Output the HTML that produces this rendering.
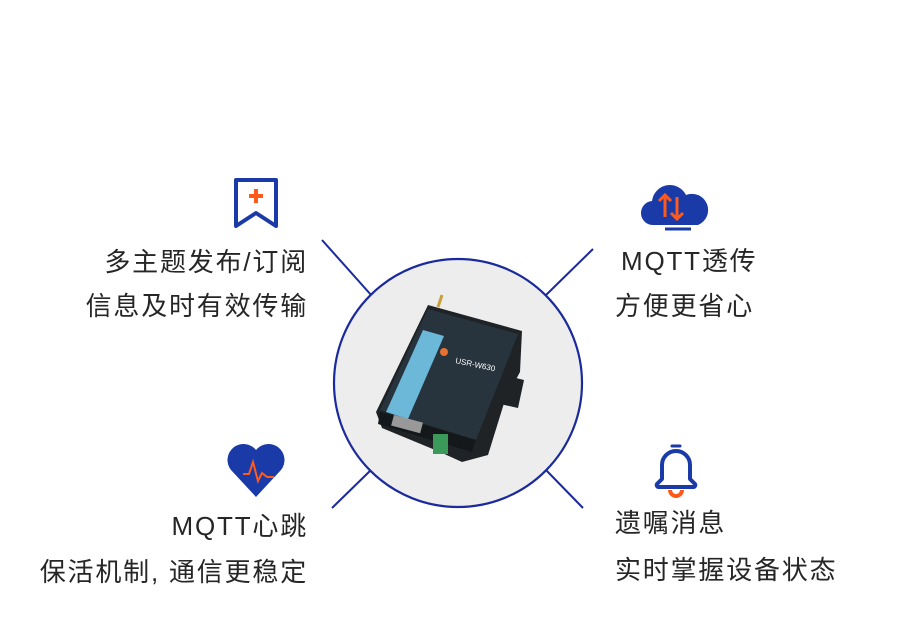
<!DOCTYPE html>
<html><head><meta charset="utf-8"><style>
body{margin:0;width:900px;height:636px;background:#fff;overflow:hidden;position:relative;font-family:"Liberation Sans","Noto Sans CJK SC",sans-serif;color:#262626}
.t{position:absolute;font-size:26px;letter-spacing:1.8px;white-space:nowrap;line-height:30px}
.r{text-align:right}
</style></head><body>
<svg width="900" height="636" style="position:absolute;left:0;top:0">
<g stroke="#1a2a9c" stroke-width="2" fill="none">
<line x1="322" y1="240" x2="372" y2="296"/>
<line x1="593" y1="249" x2="545" y2="296"/>
<line x1="332" y1="508" x2="372" y2="469"/>
<line x1="583" y1="508" x2="545" y2="469"/>
</g>
<circle cx="458" cy="383" r="124" fill="#ededed" stroke="#1a2a9c" stroke-width="2.2"/>
<!-- device -->
<polygon points="376,412 428,305 522,331 520,372 505,400 488,455 462,462 440,452 382,428" fill="#1f2326"/>
<polygon points="380,410 428,309 518,334 476,440" fill="#27343d"/>
<polygon points="386,412 423,330 444,336 408,419" fill="#6bb8d8"/>
<polygon points="380,412 476,440 472,452 378,424" fill="#15181a"/>
<rect x="392" y="418" width="30" height="11" fill="#999" transform="rotate(15 405 424)"/>
<rect x="433" y="434" width="15" height="20" fill="#3a9a5a"/>
<polygon points="508,376 524,380 518,408 500,404" fill="#1f2326"/>
<line x1="438" y1="307" x2="442" y2="295" stroke="#c9a040" stroke-width="3"/>
<text x="455" y="363" font-size="8" fill="#fff" font-family="Liberation Sans" transform="rotate(12 455 363)">USR-W630</text>
<circle cx="444" cy="352" r="4" fill="#e87030"/>
<!-- icons -->
<path d="M236 180h40v46l-20-13l-20 13z" fill="none" stroke="#1a3aa8" stroke-width="4" stroke-linejoin="round"/>
<path d="M256 189v14M249 196h14" stroke="#ff5a1a" stroke-width="4"/>
<path d="M654 225a12 12 0 0 1-2-24a18 18 0 0 1 34-6a14 14 0 0 1 12 30z" fill="#1a3aa8"/>
<path d="M665 217v-22M659 201l6-6l6 6M677 197v22M671 213l6 6l6-6" stroke="#ff5a1a" stroke-width="3" fill="none"/>
<path d="M665 229h26" stroke="#1a3aa8" stroke-width="3"/>
<path d="M256 497l-25-27a13 13 0 0 1 25-20a13 13 0 0 1 25 20z" fill="#1a3aa8"/>
<path d="M243 474h6l4-12l5 19l4-8l5 4h7" stroke="#ff5a1a" stroke-width="2" fill="none"/>
<path d="M672 446h8" stroke="#1a3aa8" stroke-width="3" stroke-linecap="round"/>
<path d="M662 479v-14a14 14 0 0 1 28 0v14l5 5a2 2 0 0 1-2 3h-34a2 2 0 0 1-2-3z" fill="none" stroke="#1a3aa8" stroke-width="4" stroke-linejoin="round"/>
<path d="M670 490a6 6 0 0 0 12 0" fill="none" stroke="#ff5a1a" stroke-width="4"/>
</svg>
<div class="t r" style="right:592px;top:247px">多主题发布/订阅</div>
<div class="t r" style="right:592px;top:291px">信息及时有效传输</div>
<div class="t" style="left:621px;top:246px">MQTT透传</div>
<div class="t" style="left:615px;top:291px">方便更省心</div>
<div class="t r" style="right:592px;top:511px">MQTT心跳</div>
<div class="t r" style="right:592px;top:557px">保活机制, 通信更稳定</div>
<div class="t" style="left:615px;top:508px">遗嘱消息</div>
<div class="t" style="left:615px;top:555px">实时掌握设备状态</div>
</body></html>
